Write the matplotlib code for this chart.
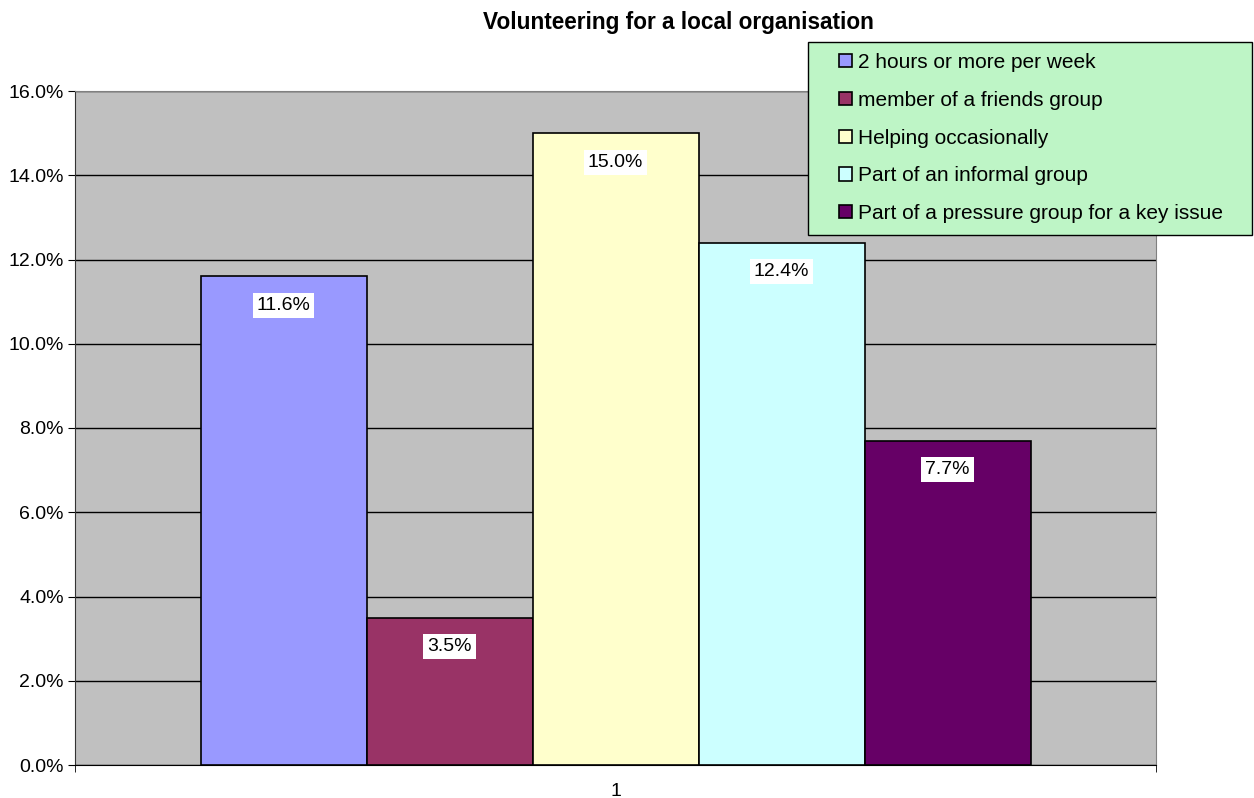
import matplotlib
matplotlib.use('Agg')
import matplotlib.pyplot as plt
from matplotlib.patches import Rectangle
from matplotlib.ticker import FuncFormatter
import numpy as np

# data
categories = ['2 hours or more per week', 'member of a friends group',
              'Helping occasionally', 'Part of an informal group',
              'Part of a pressure group for a key issue']
values = [11.6, 3.5, 15.0, 12.4, 7.7]
bar_colors = ['#9999FF', '#993366', '#FFFFCC', '#CCFFFF', '#660066']
y_ticks = [0, 2, 4, 6, 8, 10, 12, 14, 16]

plt.rcParams['font.family'] = ['Liberation Sans', 'DejaVu Sans']
plt.rcParams['font.size'] = 14

fig = plt.figure(figsize=(12.54, 7.98), dpi=100)
ax = fig.add_axes([75 / 1254, 33 / 798, 1081 / 1254, 674 / 798])
ax.set_facecolor('#C0C0C0')

width = 166 / 1081
offsets = (np.arange(len(values)) - 2) * width
for i, (name, v, c) in enumerate(zip(categories, values, bar_colors)):
    ax.bar(1 + offsets[i], v, width=width, color=c, edgecolor='black',
           linewidth=1.2, label=name, zorder=3)
    ax.annotate(f'{v:.1f}%', (1 + offsets[i], v), xytext=(0, -21),
                textcoords='offset points', ha='center', va='center',
                fontsize=14, zorder=4,
                bbox=dict(boxstyle='square,pad=0.2', fc='white', ec='none'))

ax.set_xlim(0.5, 1.5)
ax.set_ylim(0, 16)
ax.set_yticks(y_ticks)
ax.yaxis.set_major_formatter(FuncFormatter(lambda y, p: f'{y:.1f}%'))
ax.grid(axis='y', color='black', linewidth=1, zorder=1)
ax.set_xticks([1])
ax.set_xticklabels(['1'])
ax.set_xticks([0.5, 1.5], minor=True)
ax.tick_params(axis='x', which='major', length=0, pad=13)
ax.tick_params(axis='x', which='minor', length=5, direction='out')
ax.tick_params(axis='y', length=5, direction='out', pad=3)

for s in ['top', 'right']:
    ax.spines[s].set_color('#808080')
ax.spines['left'].set_color('#333333')
ax.spines['bottom'].set_color('black')

fig.text(678 / 1254, 1 - 22 / 798, 'Volunteering for a local organisation',
         ha='center', va='center', fontsize=16.3, fontweight='bold')

# legend box drawn by hand so the padding matches
fig.patches.append(Rectangle((808 / 1254, 1 - 235 / 798), 444 / 1254, 193 / 798,
                             transform=fig.transFigure, facecolor='#BEF5C6',
                             edgecolor='black', linewidth=1, zorder=5))
leg = fig.legend(loc='upper left', bbox_to_anchor=(839 / 1254, 1 - 53 / 798),
                 frameon=False, fontsize=15,
                 handlelength=0.6, handleheight=0.6, handletextpad=0.3,
                 labelspacing=0.9, borderpad=0, borderaxespad=0)
leg.set_zorder(6)

fig.savefig('out.png', dpi=100)
